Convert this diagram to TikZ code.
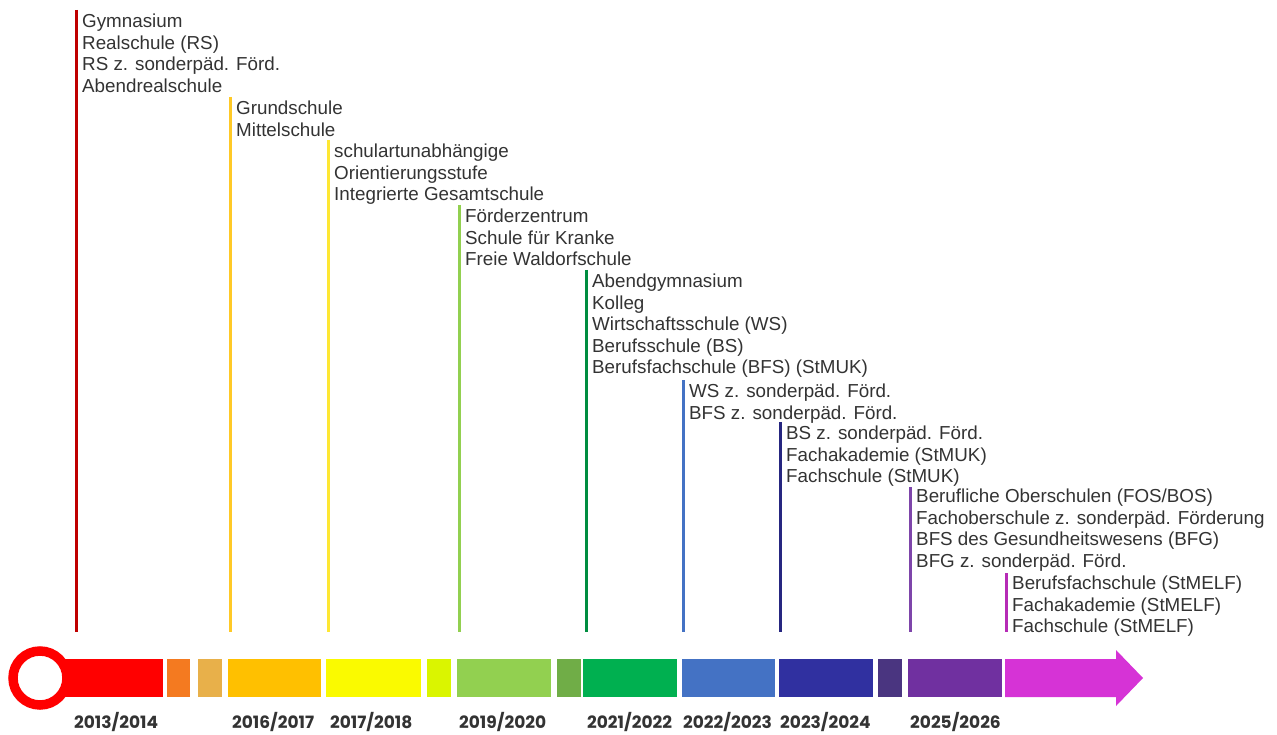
\documentclass[tikz,border=0pt]{standalone}
\usepackage{fontspec}
\setmainfont{Liberation Sans}
\newfontfamily\yearfont{Poppins}
\usepackage{tikz}
\usepackage{xcolor}

\definecolor{txtgray}{HTML}{333333}
\definecolor{segred}{HTML}{FF0000}
\definecolor{segorange}{HTML}{F47A20}
\definecolor{segsand}{HTML}{E8B04A}
\definecolor{seggold}{HTML}{FFC000}
\definecolor{segyellow}{HTML}{FAFA00}
\definecolor{seglime}{HTML}{DAF500}
\definecolor{seglgreen}{HTML}{92D050}
\definecolor{segmgreen}{HTML}{70AD47}
\definecolor{seggreen}{HTML}{00B050}
\definecolor{segblue}{HTML}{4472C4}
\definecolor{segindigo}{HTML}{3030A0}
\definecolor{segdpurple}{HTML}{4A3580}
\definecolor{segpurple}{HTML}{7030A0}
\definecolor{segmagenta}{HTML}{D633D6}

\begin{document}
\begin{tikzpicture}
	[x=1pt, y=-1pt,
	school_style/.style={anchor=north west, inner sep=0pt, align=left, text=txtgray,
		font=\fontsize{18.8}{21.5}\selectfont},
	year_style/.style={anchor=base west, inner sep=0pt, text=txtgray,
		font=\yearfont\bfseries\fontsize{17}{20}\selectfont},
	line_style/.style={line width=3pt}]
	\useasboundingbox (0,0) rectangle (1277,735);

	% vertical marks
	\draw[line_style, color=red!75!black] (76,10) -- (76,632);
	\draw[line_style, color=seggold!85!white] (230,97) -- (230,632);
	\draw[line_style, color=yellow!85!orange!80!white] (328,140) -- (328,632);
	\draw[line_style, color=seglgreen] (459,205) -- (459,632);
	\draw[line_style, color=seggreen!80!black] (586,270) -- (586,632);
	\draw[line_style, color=segblue] (683,380) -- (683,632);
	\draw[line_style, color=segindigo!80!black] (780,422) -- (780,632);
	\draw[line_style, color=segpurple!90!white] (910,487) -- (910,632);
	\draw[line_style, color=segmagenta!85!black] (1006,573) -- (1006,632);

	% school types
	\node[school_style] (s1314) at (82,14) {Gymnasium\\Realschule (RS)\\RS z. sonderpäd. Förd.\\Abendrealschule};
	\node[school_style] (s1617) at (236,101) {Grundschule\\Mittelschule};
	\node[school_style] (s1718) at (334,144) {schulartunabhängige\\Orientierungsstufe\\Integrierte Gesamtschule};
	\node[school_style] (s1920) at (465,209) {Förderzentrum\\Schule für Kranke\\Freie Waldorfschule};
	\node[school_style] (s2122) at (592,274) {Abendgymnasium\\Kolleg\\Wirtschaftsschule (WS)\\Berufsschule (BS)\\Berufsfachschule (BFS) (StMUK)};
	\node[school_style] (s2223) at (689,384) {WS z. sonderpäd. Förd.\\BFS z. sonderpäd. Förd.};
	\node[school_style] (s2324) at (786,426) {BS z. sonderpäd. Förd.\\Fachakademie (StMUK)\\Fachschule (StMUK)};
	\node[school_style] (s2526) at (916,489) {Berufliche Oberschulen (FOS/BOS)\\Fachoberschule z. sonderpäd. Förderung\\BFS des Gesundheitswesens (BFG)\\BFG z. sonderpäd. Förd.};
	\node[school_style] (s2627) at (1012,576) {Berufsfachschule (StMELF)\\Fachakademie (StMELF)\\Fachschule (StMELF)};

	% time bar
	\fill[segred] (40,659) rectangle (163,697);
	\fill[segorange] (167,659) rectangle (190,697);
	\fill[segsand] (198,659) rectangle (222,697);
	\fill[seggold] (228,659) rectangle (321,697);
	\fill[segyellow] (326,659) rectangle (421,697);
	\fill[seglime] (427,659) rectangle (451,697);
	\fill[seglgreen] (457,659) rectangle (551,697);
	\fill[segmgreen] (557,659) rectangle (581,697);
	\fill[seggreen] (583,659) rectangle (677,697);
	\fill[segblue] (682,659) rectangle (775,697);
	\fill[segindigo] (779,659) rectangle (873,697);
	\fill[segdpurple] (878,659) rectangle (902,697);
	\fill[segpurple] (908,659) rectangle (1002,697);
	\fill[segmagenta] (1005,659) -- (1116,659) -- (1116,650) -- (1143,678)
		-- (1116,706) -- (1116,697) -- (1005,697) -- cycle;
	\draw[segred, line width=9.5pt, fill=white] (40,678) circle (27);

	% years
	\node[year_style] (y1314) at (74,728) {2013/2014};
	\node[year_style] (y1617) at (232,728) {2016/2017};
	\node[year_style] (y1718) at (330,728) {2017/2018};
	\node[year_style] (y1920) at (459,728) {2019/2020};
	\node[year_style] (y2122) at (587,728) {2021/2022};
	\node[year_style] (y2223) at (683,728) {2022/2023};
	\node[year_style] (y2324) at (780,728) {2023/2024};
	\node[year_style] (y2526) at (910,728) {2025/2026};
\end{tikzpicture}
\end{document}
